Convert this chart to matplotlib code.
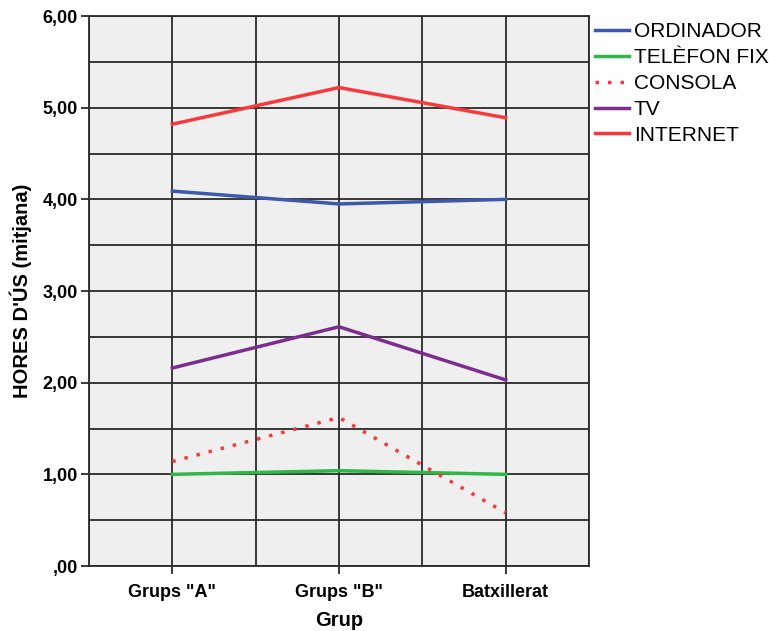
import matplotlib
matplotlib.use("Agg")
import matplotlib.pyplot as plt
from matplotlib.ticker import FuncFormatter, MultipleLocator

plt.rcParams['font.family'] = ['Liberation Sans', 'DejaVu Sans']

# data
grups = ['Grups "A"', 'Grups "B"', 'Batxillerat']
ordinador = [4.09, 3.95, 4.00]
telefon_fix = [1.00, 1.04, 1.00]
consola = [1.14, 1.62, 0.58]
tv = [2.16, 2.61, 2.03]
internet = [4.82, 5.22, 4.89]

fig = plt.figure(figsize=(7.69, 6.31), dpi=100)
ax = fig.add_axes([0.1157, 0.103, 0.6503, 0.8716])
ax.set_facecolor('#efefef')

x = list(range(len(grups)))
lw = 2.5
ax.plot(x, ordinador, color='#3d59ab', lw=lw, label='ORDINADOR')
ax.plot(x, telefon_fix, color='#2eb848', lw=lw, label='TELÈFON FIX')
ax.plot(x, consola, color='#f8383a', lw=lw, ls=(0, (1, 2.6)), label='CONSOLA')
ax.plot(x, tv, color='#7d2d8f', lw=lw, label='TV')
ax.plot(x, internet, color='#f8383a', lw=lw, label='INTERNET')

ax.set_xlim(-0.5, 2.5)
ax.set_ylim(0, 6)
ax.set_xticks(x)
ax.set_xticklabels(grups, fontsize=13, fontweight='bold')
ax.xaxis.set_minor_locator(MultipleLocator(0.5))
ax.yaxis.set_major_locator(MultipleLocator(1))
ax.yaxis.set_minor_locator(MultipleLocator(0.5))

def fmt(v, pos):
    s = '%.2f' % v
    s = s.replace('.', ',')
    if s.startswith('0,'):
        s = s[1:]
    return s

ax.yaxis.set_major_formatter(FuncFormatter(fmt))
for lab in ax.get_yticklabels():
    lab.set_fontsize(13)
    lab.set_fontweight('bold')

ax.grid(True, which='both', color='#2a2a2a', lw=1.3)
ax.set_axisbelow(True)
ax.tick_params(which='major', length=6, width=1.3, color='#2a2a2a')
ax.tick_params(which='minor', length=0)
ax.tick_params(axis='x', pad=7)
ax.tick_params(axis='y', pad=2)
for sp in ax.spines.values():
    sp.set_color('#2a2a2a')
    sp.set_linewidth(1.3)

ax.set_xlabel('Grup', fontsize=14.5, fontweight='bold', labelpad=7)
ax.set_ylabel("HORES D'ÚS (mitjana)", fontsize=14.5, fontweight='bold', labelpad=8)

ax.legend(loc='upper left', bbox_to_anchor=(1.0, 1.0), frameon=False,
          fontsize=15, handlelength=1.6, handletextpad=0.25,
          labelspacing=0.33, borderaxespad=0.1, borderpad=0.2)

fig.savefig('out.png', dpi=100)
